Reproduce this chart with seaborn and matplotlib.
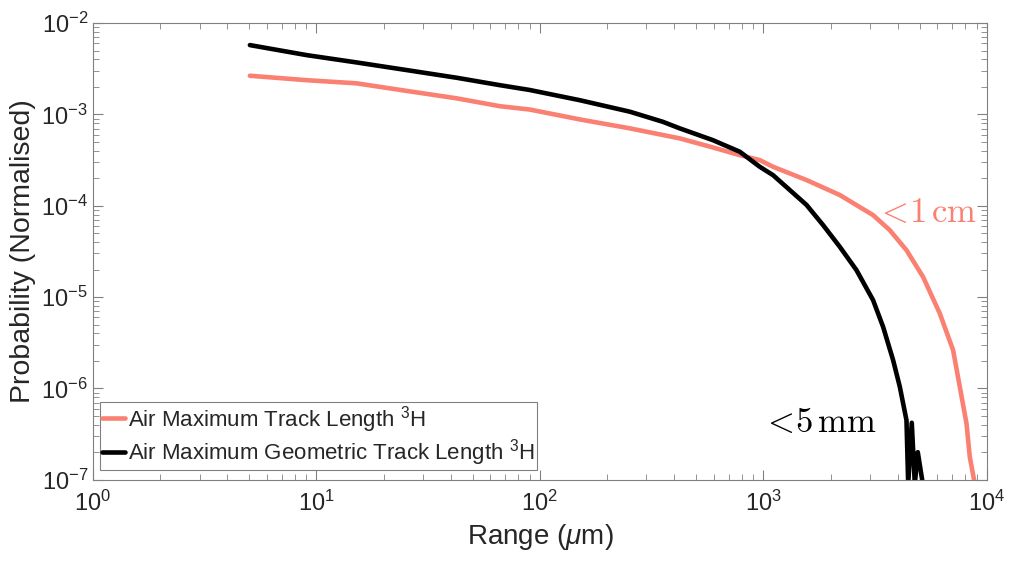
import numpy as np
import pandas as pd
import matplotlib
matplotlib.use('Agg')
import matplotlib.pyplot as plt
import seaborn as sns

# 数据 - values
track_range = [5.04, 9.04, 15.1, 25.3, 42.4, 66.2, 90.2, 151, 253, 423, 594,
               785, 964, 1106, 1561, 2199, 3099, 3681, 4372, 5188, 6163, 7069,
               7574, 8114, 8394, 8840]
track_prob = [2.65e-3, 2.37e-3, 2.19e-3, 1.81e-3, 1.50e-3, 1.23e-3, 1.13e-3,
              8.81e-4, 7.03e-4, 5.46e-4, 4.35e-4, 3.58e-4, 3.16e-4, 2.67e-4,
              1.91e-4, 1.31e-4, 7.89e-5, 5.40e-5, 3.26e-5, 1.66e-5, 6.61e-6,
              2.62e-6, 1.04e-6, 4.13e-7, 1.78e-7, 9.0e-8]

geo_range = [5.04, 9.04, 15.1, 25.3, 42.4, 66.2, 90.2, 151, 253, 355, 423, 594,
             785, 964, 1106, 1561, 1852, 2199, 2612, 3099, 3436, 3809, 4082,
             4372, 4450, 4617, 4764, 4912, 5173]
geo_prob = [5.74e-3, 4.46e-3, 3.71e-3, 3.06e-3, 2.52e-3, 2.09e-3, 1.85e-3,
            1.43e-3, 1.07e-3, 8.30e-4, 7.03e-4, 5.23e-4, 3.90e-4, 2.67e-4,
            2.16e-4, 1.02e-4, 6.13e-5, 3.55e-5, 1.97e-5, 9.25e-6, 4.72e-6,
            2.04e-6, 1.04e-6, 4.48e-7, 9.0e-8, 4.2e-7, 9.0e-8, 2.0e-7, 9.0e-8]

label_track = 'Air Maximum Track Length $^{3}$H'
label_geo = 'Air Maximum Geometric Track Length $^{3}$H'

df = pd.concat([
    pd.DataFrame({'range': track_range, 'prob': track_prob, 'series': label_track}),
    pd.DataFrame({'range': geo_range, 'prob': geo_prob, 'series': label_geo}),
], ignore_index=True)

sns.set_style("ticks")
plt.rcParams['font.family'] = ['Liberation Sans', 'DejaVu Sans']
plt.rcParams['mathtext.fontset'] = 'custom'
plt.rcParams['mathtext.rm'] = 'Liberation Sans'
plt.rcParams['mathtext.it'] = 'Liberation Sans:italic'
plt.rcParams['text.color'] = '#262626'
plt.rcParams['axes.labelcolor'] = '#262626'

fig = plt.figure(figsize=(10.1, 5.63), dpi=100)
ax = fig.add_axes([0.092, 0.148, 0.885, 0.811])
ax.set_xscale('log')
ax.set_yscale('log')

sns.lineplot(data=df, x='range', y='prob', hue='series', sort=False,
             palette=['#FA8072', 'black'], linewidth=3.3, ax=ax, estimator=None)

ax.set_xlim(1, 1e4)
ax.set_ylim(1e-7, 1e-2)
ax.set_xlabel(r'Range ($\mu$m)', fontsize=20)
ax.set_ylabel('Probability (Normalised)', fontsize=20.5)

for s in ax.spines.values():
    s.set_visible(True)
    s.set_color('#808080')
    s.set_linewidth(0.8)
ax.tick_params(which='both', direction='in', top=True, right=True,
               colors='#808080', labelcolor='#262626', labelsize=17)
ax.tick_params(which='major', length=7, width=0.8)
ax.tick_params(which='minor', length=4, width=0.6)
ax.tick_params(axis='x', which='major', pad=8)

# 标注
ax.text(3150, 8.5e-5, r'$<\!\mathrm{1}\,\mathrm{cm}$', color='#FA8072', fontsize=25,
        va='center', ha='left', math_fontfamily='cm')
ax.text(980, 4.2e-7, r'$<\!\mathrm{5}\,\mathrm{mm}$', color='black', fontsize=25,
        va='center', ha='left', math_fontfamily='cm')

leg = ax.legend(loc='lower left', bbox_to_anchor=(0.008, 0.021), borderaxespad=0,
                fontsize=16, handlelength=1.0, handletextpad=0.15, borderpad=0.1,
                labelspacing=0.1, fancybox=False, framealpha=1)
leg.get_frame().set_edgecolor('#808080')
leg.get_frame().set_linewidth(0.8)

plt.savefig('out.png', dpi=100)
